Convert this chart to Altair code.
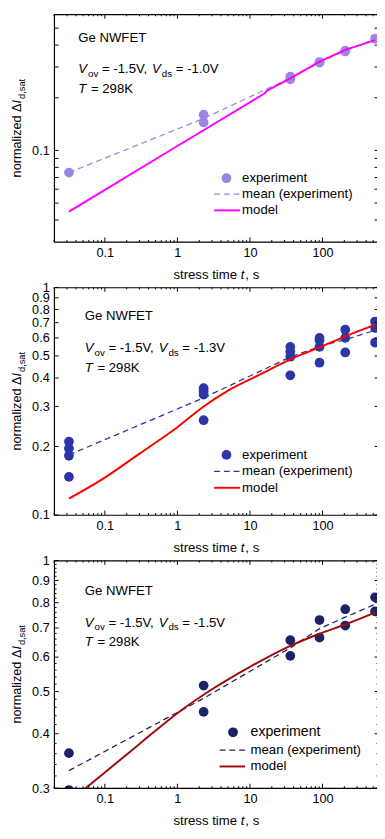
import altair as alt
import pandas as pd

FONT = "Liberation Sans"

# ---------------- data ----------------
# panel 1 : Vds = -1.0 V
EXP_T1 = [0.032, 2.3, 2.3, 36, 36, 91, 91, 206, 206, 530]
EXP_V1 = [0.0747, 0.160, 0.1445, 0.264, 0.255, 0.320, 0.318, 0.372, 0.368, 0.435]
MOD_T1 = [0.032, 1, 16, 17, 36, 91, 206, 530]
MOD_V1 = [0.0447, 0.106, 0.212, 0.219, 0.258, 0.322, 0.376, 0.427]

# panel 2 : Vds = -1.3 V
EXP_T2 = [0.032, 0.032, 0.032, 0.032, 2.3, 2.3, 2.3, 2.3, 36, 36, 36, 36,
          91, 91, 91, 91, 206, 206, 206, 530, 530, 530]
EXP_V2 = [0.210, 0.196, 0.182, 0.147, 0.361, 0.349, 0.338, 0.261, 0.548, 0.523, 0.496, 0.411,
          0.600, 0.585, 0.548, 0.467, 0.652, 0.600, 0.518, 0.708, 0.664, 0.572]
MOD_T2 = [0.032, 0.1, 0.3, 1, 2.3, 5, 15, 36, 91, 206, 530]
MOD_V2 = [0.118, 0.146, 0.186, 0.243, 0.300, 0.352, 0.420, 0.483, 0.545, 0.610, 0.685]

# panel 3 : Vds = -1.5 V
EXP_T3 = [0.032, 0.032, 2.3, 2.3, 36, 36, 91, 91, 206, 206, 530, 530]
EXP_V3 = [0.361, 0.297, 0.516, 0.449, 0.656, 0.604, 0.730, 0.665, 0.773, 0.709, 0.823, 0.764]
MOD_T3 = [0.032, 0.1, 0.3, 1, 3, 10, 36, 91, 206, 530]
MOD_V3 = [0.279, 0.326, 0.379, 0.446, 0.506, 0.570, 0.637, 0.679, 0.713, 0.759]

X_DOMAIN = [0.02, 600]
X_LABELS = [0.1, 1, 10, 100]
X_MINOR = [0.02, 0.03, 0.04, 0.05, 0.06, 0.07, 0.08, 0.09,
           0.2, 0.3, 0.4, 0.5, 0.6, 0.7, 0.8, 0.9,
           2, 3, 4, 5, 6, 7, 8, 9,
           20, 30, 40, 50, 60, 70, 80, 90,
           200, 300, 400, 500]

Y1_DOMAIN = [0.03, 0.6]
Y1_LABELS = [0.1]
Y1_TICKS = [0.04, 0.05, 0.06, 0.07, 0.08, 0.09, 0.2, 0.3, 0.4, 0.5]
Y1_MINOR = []

Y2_DOMAIN = [0.1, 1]
Y2_LABELS = [0.1, 0.2, 0.3, 0.4, 0.5, 0.6, 0.7, 0.8, 0.9, 1]
Y2_TICKS = []
Y2_MINOR = []

Y3_DOMAIN = [0.3, 1]
Y3_LABELS = [0.3, 0.4, 0.5, 0.6, 0.7, 0.8, 0.9, 1]
Y3_TICKS = []
Y3_MINOR = [0.32, 0.34, 0.36, 0.38, 0.42, 0.44, 0.46, 0.48, 0.52, 0.54, 0.56, 0.58,
            0.62, 0.64, 0.66, 0.68, 0.72, 0.74, 0.76, 0.78, 0.82, 0.84, 0.86, 0.88,
            0.92, 0.94, 0.96, 0.98]

LEGEND = ["experiment", "mean (experiment)", "model"]

W = 333
H = 233.3
PLOT_LEFT = 54.3  # absolute page x of the plot's left edge

# approximate Arial / Liberation Sans advance widths (1/1000 em)
CW = {' ': 278, '=': 584, '-': 333, '.': 278, ',': 278, '(': 333, ')': 333,
      'V': 667, 'K': 667, 'T': 611, 'I': 278, 'G': 778, 'N': 722, 'W': 944, 'F': 611, 'E': 667,
      'a': 556, 'd': 556, 'e': 556, 'i': 222, 'l': 222, 'm': 833, 'n': 556, 'o': 556,
      'p': 556, 'r': 333, 's': 500, 't': 278, 'v': 500, 'x': 500, 'z': 500, '\u0394': 668}


def tw(s, size):
    return sum(CW.get(ch, 556) for ch in s) * size / 1000.0


def text(txt, x, y, size=13.5, style="normal", angle=0, align="left", baseline="alphabetic"):
    return alt.Chart(alt.Data(values=[{}])).mark_text(
        text=txt, font=FONT, fontSize=size, fontStyle=style, align=align,
        baseline=baseline, angle=angle, color="black"
    ).encode(x=alt.value(x), y=alt.value(y))


def rich(pieces, x0, y0, angle=0):
    layers = []
    pos = 0.0
    for txt, size, style, shift in pieces:
        lead = len(txt) - len(txt.lstrip(' '))
        off = tw(' ' * lead, size)
        if angle == 0:
            layers.append(text(txt.strip(), x0 + pos + off, y0 + shift, size, style))
        else:
            layers.append(text(txt.strip(), x0 + shift, y0 - pos - off, size, style, angle=angle))
        pos += tw(txt, size) + (1.0 if style == "italic" else 0.0)
    return layers


def rich_len(pieces):
    return sum(tw(t, s) + (1.0 if st == "italic" else 0.0) for t, s, st, _ in pieces)


def panel(et, ev, mt, mv, ydom, ylab, yticks, yminor, cpt, cmod, vds,
          top, txt_x, txt_y, leg, exp_size, model_interp):
    """top: absolute page y of plot top; positions given in absolute page coords."""
    ax = lambda x: x - PLOT_LEFT
    ay = lambda y: y - top
    xs = alt.Scale(type="log", domain=X_DOMAIN, nice=False)
    ys = alt.Scale(type="log", domain=ydom, nice=False)
    exp = pd.DataFrame({"t": et, "v": ev})
    mod = pd.DataFrame({"t": mt, "v": mv})

    xaxis = alt.Axis(values=X_LABELS, format="~g", ticks=False, tickSize=0, domain=False,
                     grid=False, labelFont=FONT, labelFontSize=13, labelColor="black",
                     labelPadding=5, labelOverlap=False, title=None)
    yaxis = alt.Axis(values=ylab, format="~g", ticks=False, tickSize=0, domain=False,
                     grid=False, labelFont=FONT, labelFontSize=13, labelColor="black",
                     labelPadding=5, labelOverlap=False, title=None)
    X = lambda f: alt.X(f, scale=xs, axis=xaxis)
    Y = lambda f: alt.Y(f, scale=ys, axis=yaxis)

    layers = []
    # mean of experiment (dashed)
    layers.append(
        alt.Chart(exp).transform_aggregate(v="mean(v)", groupby=["t"])
        .mark_line(color=cpt, strokeDash=[6, 4], strokeWidth=1.3, clip=True)
        .encode(x=X("t:Q"), y=Y("v:Q"))
    )
    # experiment points
    layers.append(
        alt.Chart(exp).mark_circle(size=100, color=cpt, opacity=1, clip=True)
        .encode(x=X("t:Q"), y=Y("v:Q"))
    )
    # model line
    layers.append(
        alt.Chart(mod).mark_line(color=cmod, strokeWidth=2, clip=True, interpolate=model_interp)
        .encode(x=X("t:Q"), y=Y("v:Q"))
    )

    # ticks (inward), bottom / top / left / right
    def xt(vals, y0, y1):
        return alt.Chart(pd.DataFrame({"t": vals})).mark_rule(color="black", strokeWidth=1).encode(
            x=X("t:Q"), y=alt.value(y0), y2=alt.value(y1))

    def yt(vals, x0, x1):
        return alt.Chart(pd.DataFrame({"v": vals})).mark_rule(color="black", strokeWidth=1).encode(
            y=Y("v:Q"), x=alt.value(x0), x2=alt.value(x1))

    layers += [xt(X_LABELS, H, H - 4.5), xt(X_MINOR, H, H - 2),
               xt(X_LABELS, 0, 4.5), xt(X_MINOR, 0, 2)]
    ymaj = ylab + yticks
    layers += [yt(ymaj, 0, 4.5), yt(ymaj, W - 4.5, W)]
    if yminor:
        layers += [yt(yminor, 0, 2.5), yt(yminor, W - 2.5, W)]

    # annotation text
    tx = ax(txt_x)
    layers.append(text("Ge NWFET", tx, ay(txt_y[0])))
    layers += rich([("V", 13.5, "italic", 0), ("ov", 10, "normal", 3.5),
                    (" = -1.5V, ", 13.5, "normal", 0), ("V", 13.5, "italic", 0),
                    ("ds", 10, "normal", 3.5), (" = " + vds, 13.5, "normal", 0)], tx, ay(txt_y[1]))
    layers += rich([("T", 13.5, "italic", 0), (" = 298K", 13.5, "normal", 0)], tx, ay(txt_y[2]))

    # legend
    lx, ly, l0, l1, txx, ly2, ly3 = leg
    layers.append(alt.Chart(alt.Data(values=[{}])).mark_circle(size=100, color=cpt, opacity=1)
                  .encode(x=alt.value(ax(lx)), y=alt.value(ay(ly))))
    layers.append(alt.Chart(alt.Data(values=[{}])).mark_rule(color=cpt, strokeDash=[6, 4], strokeWidth=1.3)
                  .encode(x=alt.value(ax(l0)), x2=alt.value(ax(l1)), y=alt.value(ay(ly2))))
    layers.append(alt.Chart(alt.Data(values=[{}])).mark_rule(color=cmod, strokeWidth=2)
                  .encode(x=alt.value(ax(l0)), x2=alt.value(ax(l1)), y=alt.value(ay(ly3))))
    layers.append(text(LEGEND[0], ax(txx), ay(ly), exp_size, baseline="middle"))
    layers.append(text(LEGEND[1], ax(txx), ay(ly2), 13.5, baseline="middle"))
    layers.append(text(LEGEND[2], ax(txx), ay(ly3), 13.5, baseline="middle"))

    # y title
    ypieces = [("normalized \u0394", 13, "normal", 0), ("I", 13, "italic", 0), ("d,sat", 9.5, "normal", 3.5)]
    L = rich_len(ypieces)
    layers += rich(ypieces, ax(20.8), H / 2 + L / 2, angle=270)
    # x title
    xpieces = [("stress time ", 13.5, "normal", 0), ("t", 13.5, "italic", 0), (", s", 13.5, "normal", 0)]
    L = rich_len(xpieces)
    layers += rich(xpieces, ax(220.6) - L / 2, H + 38.3)

    return alt.layer(*layers).properties(width=W, height=H)


p1 = panel(EXP_T1, EXP_V1, MOD_T1, MOD_V1, Y1_DOMAIN, Y1_LABELS, Y1_TICKS, Y1_MINOR,
           "#9B87E1", "#FF00FF", "-1.0V", 3, 79, [31, 63.3, 83.3],
           (231, 171, 218.3, 245, 247, 187.3, 204), 13.5, "linear")
p2 = panel(EXP_T2, EXP_V2, MOD_T2, MOD_V2, Y2_DOMAIN, Y2_LABELS, Y2_TICKS, Y2_MINOR,
           "#2B35A8", "#FF0000", "-1.3V", 282.3, 85.7, [316, 349, 369.3],
           (231, 454, 218.3, 245, 247, 471, 487.7), 13.5, "monotone")
p3 = panel(EXP_T3, EXP_V3, MOD_T3, MOD_V3, Y3_DOMAIN, Y3_LABELS, Y3_TICKS, Y3_MINOR,
           "#1C2266", "#A00A0A", "-1.5V", 561.6, 85.7, [597.3, 629.3, 649.3],
           (237.7, 737.7, 224, 250, 255.7, 756, 772.7), 14.5, "monotone")

chart = alt.vconcat(p1, p2, p3, spacing=46, bounds="flush").properties(
    padding={"left": 2.3, "right": -4, "top": -6, "bottom": 0},
    background="white",
).configure_view(stroke="black", strokeWidth=1.2)

chart.save("out.html", embed_options={"renderer": "svg", "actions": False})
